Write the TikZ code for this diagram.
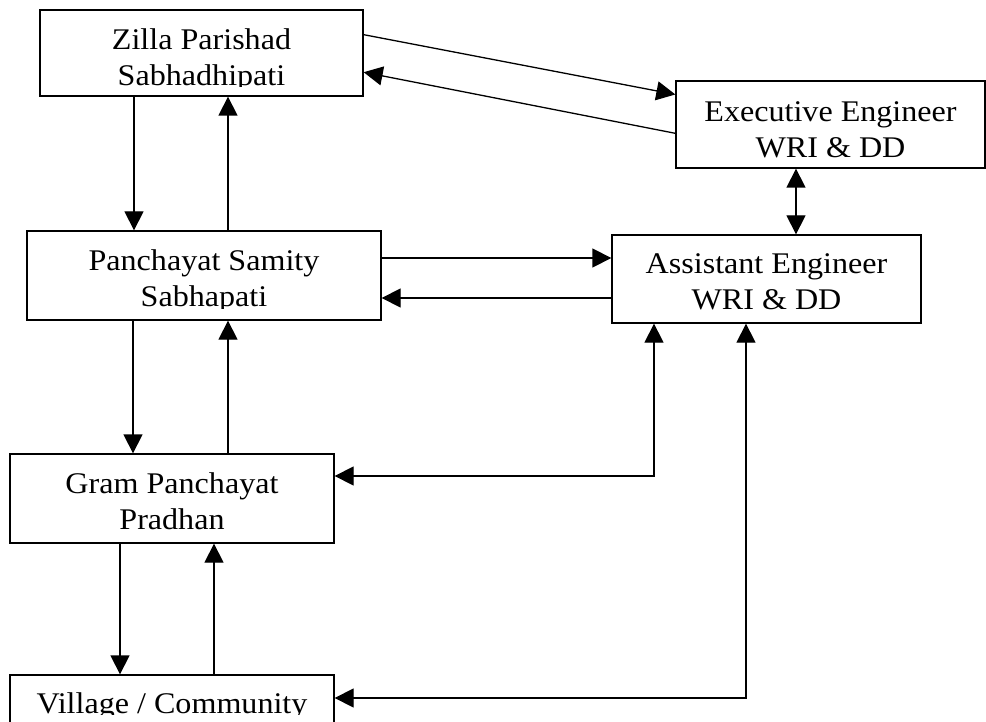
\documentclass[tikz,border=0pt]{standalone}
\usepackage{fontspec}
\setmainfont{Liberation Serif}[FakeStretch=1.07]
\usetikzlibrary{arrows.meta,calc}
\begin{document}
\begin{tikzpicture}[x=1pt,y=-1pt,
  frame/.style={draw, line width=1.3pt, inner sep=0pt, rectangle},
  boxtext/.style={anchor=base, inner sep=0pt, font=\fontsize{30}{36}\selectfont},
  arr/.style={line width=1.3pt, -{Triangle[length=19pt,width=19pt]}},
  darr/.style={line width=1.3pt, {Triangle[length=19pt,width=19pt]}-{Triangle[length=19pt,width=19pt]}}]

% page area
\clip (0,0) rectangle (986,722);
\fill[white] (0,0) rectangle (986,722);

% office boxes
\node[frame, minimum width=323pt, minimum height=86pt] (zp) at (201.5,53) {};
\node[frame, minimum width=309pt, minimum height=87pt] (ee) at (830.5,124.5) {};
\node[frame, minimum width=354pt, minimum height=89pt] (ps) at (204,275.5) {};
\node[frame, minimum width=309pt, minimum height=88pt] (ae) at (766.5,279) {};
\node[frame, minimum width=324pt, minimum height=89pt] (gp) at (172,498.5) {};
\node[frame, minimum width=324pt, minimum height=100pt] (vc) at (172,725) {};

% box texts (the lower lines run into the box bottoms)
\begin{scope}
  \clip (40,10) rectangle (363,87);
  \node[boxtext] (zpt) at (201.5,50) {\begin{tabular}[t]{@{}c@{}}Zilla Parishad\\Sabhadhipati\end{tabular}};
\end{scope}
\node[boxtext] (eet) at (830.5,122) {\begin{tabular}[t]{@{}c@{}}Executive Engineer\\WRI \& DD\end{tabular}};
\begin{scope}
  \clip (27,231) rectangle (381,309);
  \node[boxtext] (pst) at (204,271) {\begin{tabular}[t]{@{}c@{}}Panchayat Samity\\Sabhapati\end{tabular}};
\end{scope}
\node[boxtext] (aet) at (766.5,274) {\begin{tabular}[t]{@{}c@{}}Assistant Engineer\\WRI \& DD\end{tabular}};
\node[boxtext] (gpt) at (172,493) {\begin{tabular}[t]{@{}c@{}}Gram Panchayat\\Pradhan\end{tabular}};
\begin{scope}
  \clip (10,675) rectangle (334,714);
  \node[boxtext] (vct) at (172,713) {Village / Community};
\end{scope}

% Zilla Parishad <-> Executive Engineer
\draw[arr] ($(zp.north east)!0.29!(zp.south east)$) -- ($(ee.north west)!0.16!(ee.south west)$);
\draw[arr] ($(ee.north west)!0.6!(ee.south west)$) -- ($(zp.north east)!0.72!(zp.south east)$);

% vertical chain
\draw[arr] (134,0 |- zp.south) -- (134,0 |- ps.north);
\draw[arr] (228,0 |- ps.north) -- (228,0 |- zp.south);
\draw[arr] (133,0 |- ps.south) -- (133,0 |- gp.north);
\draw[arr] (228,0 |- gp.north) -- (228,0 |- ps.south);
\draw[arr] (120,0 |- gp.south) -- (120,0 |- vc.north);
\draw[arr] (214,0 |- vc.north) -- (214,0 |- gp.south);

% Panchayat Samity <-> Assistant Engineer
\draw[arr] (ps.east |- 0,258) -- (ae.west |- 0,258);
\draw[arr] (ae.west |- 0,298) -- (ps.east |- 0,298);

% Executive <-> Assistant Engineer
\draw[darr] (796,0 |- ee.south) -- (796,0 |- ae.north);

% Assistant Engineer <-> Gram Panchayat and Village
\draw[darr] (gp.east |- 0,476) -| (654,0 |- ae.south);
\draw[darr] (vc.east |- 0,698) -| (746,0 |- ae.south);
\end{tikzpicture}
\end{document}
